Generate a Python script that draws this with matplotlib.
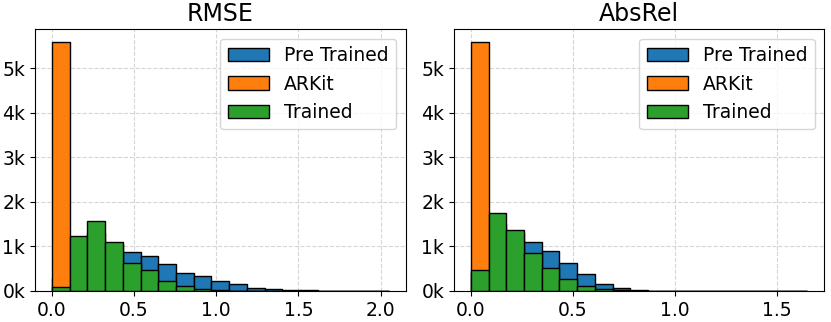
import numpy as np
import matplotlib
matplotlib.use("Agg")
import matplotlib.pyplot as plt
from matplotlib.ticker import FuncFormatter

titles = ["RMSE", "AbsRel"]
series_names = ["Pre Trained", "ARKit", "Trained"]
colors = ["#1f77b4", "#ff7f0e", "#2ca02c"]

# bin ranges (19 equal-width bins each)
rmse_range = (0.0, 2.05)
absrel_range = (0.0, 1.65)
n_bins = 19

# counts per bin
rmse_pre = [300, 1000, 1300, 1050, 870, 790, 605, 405, 330, 230, 150, 75, 45, 30, 12, 8, 5, 3, 2]
rmse_arkit = [5590, 0, 0, 0, 0, 0, 0, 0, 0, 0, 0, 0, 0, 0, 0, 0, 0, 0, 0]
rmse_trained = [80, 1240, 1565, 1090, 630, 460, 230, 120, 50, 20, 8, 4, 2, 1, 0, 0, 0, 0, 0]

absrel_pre = [400, 1500, 1300, 1095, 900, 635, 390, 155, 60, 20, 8, 4, 2, 1, 1, 0, 0, 0, 1]
absrel_arkit = [5590, 0, 0, 0, 0, 0, 0, 0, 0, 0, 0, 0, 0, 0, 0, 0, 0, 0, 0]
absrel_trained = [480, 1760, 1365, 860, 515, 280, 105, 45, 15, 5, 2, 1, 0, 0, 0, 0, 0, 0, 0]

panels = [
    (rmse_range, [rmse_pre, rmse_arkit, rmse_trained]),
    (absrel_range, [absrel_pre, absrel_arkit, absrel_trained]),
]

fig = plt.figure(figsize=(8.31, 3.22), dpi=100)
W, H = 831, 322
axes_px = [(35, 29.3, 405.7, 291), (454, 29.3, 824.3, 291)]

for i, ((rng, data), title) in enumerate(zip(panels, titles)):
    l, t, r, b = axes_px[i]
    ax = fig.add_axes([l / W, 1 - b / H, (r - l) / W, (b - t) / H])
    edges = np.linspace(rng[0], rng[1], n_bins + 1)
    centers = (edges[:-1] + edges[1:]) / 2
    for name, vals, c in zip(series_names, data, colors):
        ax.hist(centers, bins=edges, weights=vals, color=c, edgecolor="black",
                linewidth=1.0, label=name)
    ax.set_title(title, fontsize=17)
    ax.yaxis.set_major_formatter(FuncFormatter(lambda v, p: f"{v/1000:.0f}k"))
    ax.set_yticks([0, 1000, 2000, 3000, 4000, 5000])
    ax.tick_params(labelsize=13.5)
    ax.grid(True, linestyle="--", color="#cccccc", linewidth=0.8, alpha=0.8)
    ax.set_axisbelow(True)
    ax.legend(fontsize=13.5, loc="upper right", handlelength=2.2)

fig.savefig("out.png", dpi=100)
